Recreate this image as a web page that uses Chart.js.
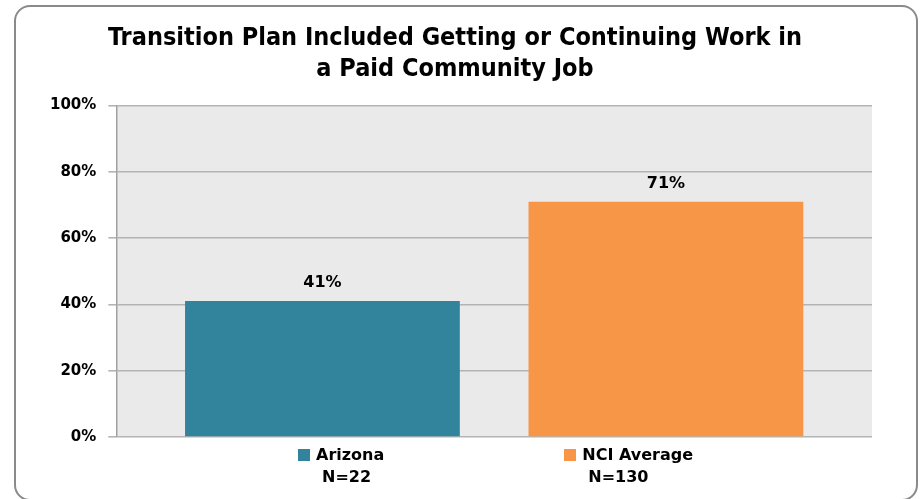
<!DOCTYPE html>
<html>
<head>
<meta charset="utf-8">
<script src="https://cdn.jsdelivr.net/npm/chart.js@4.4.1/dist/chart.umd.min.js"></script>
<style>
  html, body { margin: 0; padding: 0; background: #fff; overflow: hidden; }
  #wrap { position: relative; width: 921px; height: 499px; }
  #frame {
    position: absolute; left: 14px; top: 5px; width: 900px; height: 492px;
    border: 2.5px solid #8a8a8a; border-radius: 16px;
  }
  canvas { position: absolute; left: 0; top: 0; }
  #legend {
    position: absolute; left: 298px; top: 444px;
    display: flex; column-gap: 180px;
    font: bold 16px "DejaVu Sans", sans-serif; color: #000;
  }
  .item { display: flex; align-items: flex-start; }
  .box { width: 12px; height: 12px; margin-top: 5px; margin-right: 6px; }
  .txt div { line-height: 22px; }
  .txt div + div { padding-left: 6px; }
</style>
</head>
<body>
<div id="wrap">
  <div id="frame"></div>
  <canvas id="chart" width="921" height="499"></canvas>
  <div id="legend"></div>
</div>
<script>
const titleLines = ["Transition Plan Included Getting or Continuing Work in", "a Paid Community Job"];
const categories = ["Arizona", "NCI Average"];
const sampleSizes = ["N=22", "N=130"];
const percents = [41, 71];
const barColors = ["#31849b", "#f79646"];
const yTicks = [0, 20, 40, 60, 80, 100];

// bars sit at x = 0, 1 on a linear axis
let points = [];
for (let i = 0; i < percents.length; i++) {
  points.push({ x: i, y: percents[i] });
}

const plotBackground = {
  id: "plotBackground",
  beforeDraw(chart) {
    const a = chart.chartArea;
    const ctx = chart.ctx;
    ctx.save();
    ctx.fillStyle = "#eaeaea";
    ctx.fillRect(a.left, a.top, a.right - a.left, a.bottom - a.top);
    ctx.restore();
  }
};

const valueLabels = {
  id: "valueLabels",
  afterDatasetsDraw(chart) {
    const ctx = chart.ctx;
    const meta = chart.getDatasetMeta(0);
    ctx.save();
    ctx.font = "bold 16px 'DejaVu Sans', sans-serif";
    ctx.fillStyle = "#000";
    ctx.textAlign = "center";
    ctx.textBaseline = "middle";
    meta.data.forEach((bar, i) => {
      ctx.fillText(percents[i] + "%", bar.x, bar.y - 18);
    });
    ctx.restore();
  }
};

new Chart(document.getElementById("chart").getContext("2d"), {
  type: "bar",
  data: {
    datasets: [{
      data: points,
      backgroundColor: barColors,
      borderWidth: 0,
      categoryPercentage: 1,
      barPercentage: 0.8
    }]
  },
  options: {
    responsive: false,
    animation: false,
    layout: { padding: { left: 38, right: 49, top: 7, bottom: 62 } },
    plugins: {
      legend: { display: false },
      tooltip: { enabled: false },
      title: {
        display: true,
        text: titleLines,
        color: "#000",
        font: { family: "'Liberation Sans Narrow', 'DejaVu Sans Condensed', sans-serif", size: 25, weight: "bold", lineHeight: 1.25 },
        padding: { top: 16, bottom: 20 }
      }
    },
    scales: {
      x: {
        type: "linear",
        display: false,
        offset: false,
        min: -0.6,
        max: 1.6,
        afterBuildTicks(scale) {
          scale.ticks = points.map(p => ({ value: p.x }));
        }
      },
      y: {
        min: 0,
        max: 100,
        afterBuildTicks(scale) {
          scale.ticks = yTicks.map(v => ({ value: v }));
        },
        ticks: {
          color: "#000",
          padding: 12,
          font: { family: "'DejaVu Sans', sans-serif", size: 15, weight: "bold" },
          callback: v => v + "%"
        },
        grid: { color: "#b4b4b4", lineWidth: 1.6, tickLength: 8, drawTicks: true },
        border: { color: "#a0a0a0", width: 1.5 }
      }
    }
  },
  plugins: [plotBackground, valueLabels]
});

// legend under the bars, built from the same arrays
let html = "";
for (let i = 0; i < categories.length; i++) {
  html += "<div class='item'><span class='box' style='background:" + barColors[i] + "'></span>";
  html += "<div class='txt'><div>" + categories[i] + "</div><div>" + sampleSizes[i] + "</div></div></div>";
}
document.getElementById("legend").innerHTML = html;
</script>
</body>
</html>
